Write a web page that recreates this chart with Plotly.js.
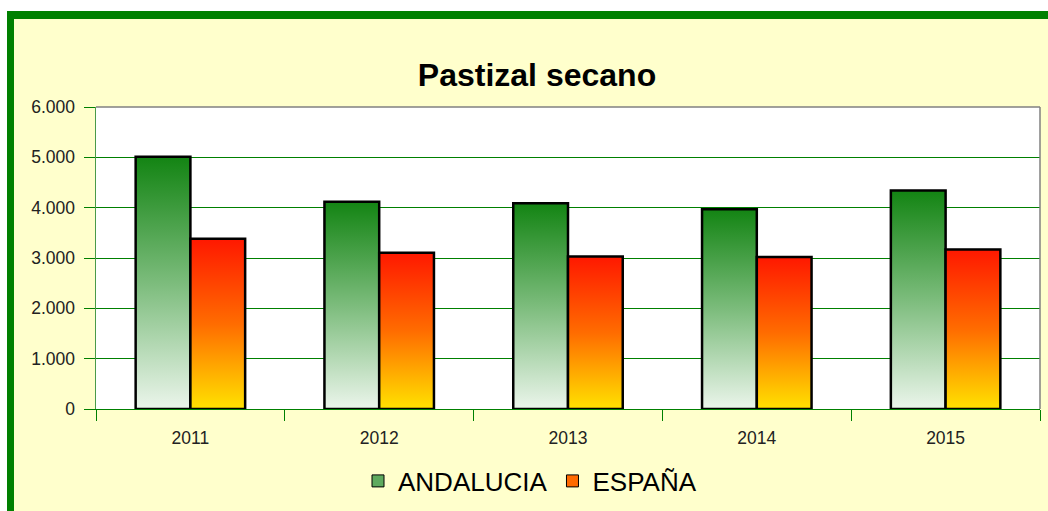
<!DOCTYPE html>
<html>
<head>
<meta charset="utf-8">
<script src="https://cdn.plot.ly/plotly-3.0.1.min.js"></script>
<style>
  html, body { margin: 0; padding: 0; background: #ffffff; width: 1048px; height: 511px; overflow: hidden; }
  #frame { position: absolute; left: 7px; top: 11px; width: 1041px; height: 500px; box-sizing: border-box;
           background: #FFFFCC; border-left: 7px solid #008000; border-top: 8px solid #008000; }
  #chart { position: absolute; left: 0; top: 0; width: 1048px; height: 511px; }
</style>
</head>
<body>
<div id="frame"></div>
<div id="chart"></div>
<script>
const years = ['2011', '2012', '2013', '2014', '2015'];
const andalucia = [5010, 4120, 4090, 3970, 4340];
const espana = [3380, 3105, 3030, 3020, 3170];
const yTickVals = [0, 1000, 2000, 3000, 4000, 5000, 6000];
const yTickText = ['0', '1.000', '2.000', '3.000', '4.000', '5.000', '6.000'];

const FONT = 'Liberation Sans, Arial, sans-serif';
const barW = 0.29;
const xs = years.map((_, i) => i);

const greenScale = [[0, '#ebf5eb'], [0.5, '#7cbc7c'], [1, '#138413']];
const orangeScale = [[0, '#ffe200'], [0.5, '#ff6c00'], [1, '#ff1800']];

const traces = [];
// Solid bars (provide legend entries and base geometry)
traces.push({ type: 'bar', name: 'ANDALUCIA', x: xs, y: andalucia,
  marker: { color: '#5eaa5e', line: { color: '#000', width: 1 } }, hoverinfo: 'skip' });
traces.push({ type: 'bar', name: 'ESPAÑA', x: xs, y: espana,
  marker: { color: '#ff6a00', line: { color: '#000', width: 1 } }, hoverinfo: 'skip' });

// Gradient overlays built from the same data
function gradientBar(x0, x1, v, scale) {
  return { type: 'scatter', mode: 'lines', x: [x0, x0, x1, x1, x0], y: [0, v, v, 0, 0],
    fill: 'toself', fillgradient: { type: 'vertical', colorscale: scale },
    line: { color: '#000000', width: 2.5 }, showlegend: false, hoverinfo: 'skip' };
}
xs.forEach((i) => {
  traces.push(gradientBar(i - barW, i, andalucia[i], greenScale));
  traces.push(gradientBar(i, i + barW, espana[i], orangeScale));
});

const layout = {
  width: 1048, height: 511,
  paper_bgcolor: 'rgba(0,0,0,0)', plot_bgcolor: '#ffffff',
  margin: { l: 96, r: 8, t: 107, b: 102 },
  font: { family: FONT, color: '#222222' },
  title: { text: '<b>Pastizal secano</b>', font: { family: FONT, size: 32, color: '#000000' },
    xref: 'container', x: 537 / 1048, xanchor: 'center', yref: 'container', y: 1 - 75 / 511, yanchor: 'middle' },
  barmode: 'group', bargap: 0.42, bargroupgap: 0,
  showlegend: true,
  legend: { orientation: 'h', xref: 'container', x: 530 / 1048, xanchor: 'center',
    yref: 'container', y: 1 - 481 / 511, yanchor: 'middle', itemwidth: 30,
    font: { family: FONT, size: 26, color: '#000000' }, bgcolor: 'rgba(0,0,0,0)', itemclick: false },
  xaxis: { range: [-0.5, 4.5], tickmode: 'array', tickvals: xs, ticktext: years,
    ticks: 'outside', ticklen: 11, tickcolor: 'rgba(0,0,0,0)', ticklabelstandoff: 2,
    tickfont: { family: FONT, size: 17.5, color: '#222222' },
    showgrid: false, zeroline: false, showline: true, linecolor: '#008000', linewidth: 1,
    minor: { tickmode: 'array', tickvals: [-0.5, 0.5, 1.5, 2.5, 3.5, 4.5], ticks: 'outside', ticklen: 11, tickcolor: '#008000', tickwidth: 1, showgrid: false },
    fixedrange: true },
  yaxis: { range: [0, 6000], tickmode: 'array', tickvals: yTickVals, ticktext: yTickText,
    ticks: 'outside', ticklen: 11, tickcolor: '#008000', ticklabelstandoff: 5,
    tickfont: { family: FONT, size: 17.5, color: '#222222' },
    showgrid: true, gridcolor: '#008000', gridwidth: 1, zeroline: false,
    showline: true, linecolor: '#4a9a4a', linewidth: 1.5, fixedrange: true },
  shapes: [
    { type: 'line', xref: 'paper', yref: 'paper', x0: 0, x1: 1, y0: 1, y1: 1, line: { color: '#808080', width: 1.5 } },
    { type: 'line', xref: 'paper', yref: 'paper', x0: 1, x1: 1, y0: 0, y1: 1, line: { color: '#808080', width: 1.5 } }
  ],
  hovermode: false
};

Plotly.newPlot('chart', traces, layout, { displayModeBar: false, staticPlot: true });
</script>
</body>
</html>
